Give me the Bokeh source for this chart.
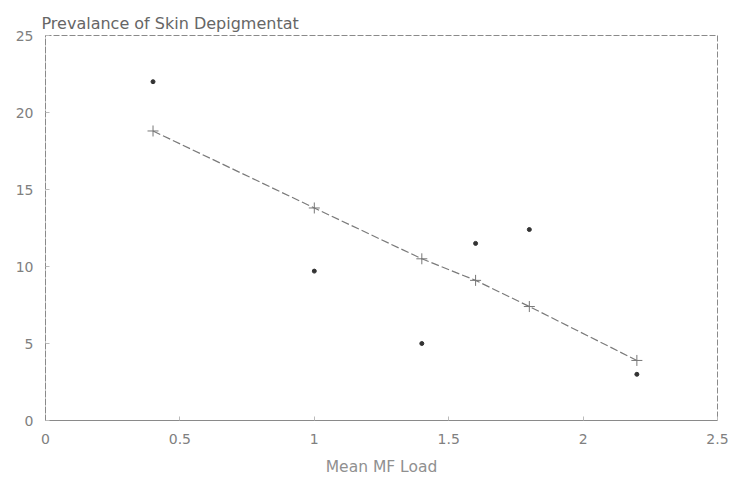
from bokeh.plotting import figure
from bokeh.models import Range1d, FixedTicker
from bokeh.embed import file_html
from bokeh.resources import INLINE

# Observed data (Mean MF Load vs Prevalence of skin depigmentation)
mf_load = [0.4, 1.0, 1.4, 1.6, 1.8, 2.2]
prevalence = [22.0, 9.7, 5.0, 11.5, 12.4, 3.0]
# Fitted regression values
fitted = [18.8, 13.8, 10.5, 9.1, 7.4, 3.9]

x_ticks = [0, 0.5, 1, 1.5, 2, 2.5]
x_tick_labels = {0: "0", 0.5: "0.5", 1: "1", 1.5: "1.5", 2: "2", 2.5: "2.5"}
y_ticks = [0, 5, 10, 15, 20, 25]

FONT = "DejaVu Sans"
GREY = "#8a8a8a"

p = figure(width=737, height=486, output_backend="svg", toolbar_location=None,
           x_range=Range1d(0, 2.5), y_range=Range1d(0, 25),
           min_border_left=45, min_border_right=20, min_border_top=35, min_border_bottom=66)
p.title.text = "Prevalance of Skin Depigmentat"
p.title.text_font = FONT
p.title.text_font_size = "16px"
p.title.text_font_style = "normal"
p.title.text_color = "#666666"
p.title.offset = -4
p.title.standoff = 6

p.grid.visible = False
p.background_fill_color = "white"
p.border_fill_color = "white"
p.outline_line_color = GREY
p.outline_line_dash = "6 2"
p.outline_line_width = 1

for ax in (p.xaxis[0], p.yaxis[0]):
    ax.axis_line_color = GREY
    ax.axis_line_dash = "6 2"
    ax.major_tick_in = 4
    ax.major_tick_out = 0
    ax.minor_tick_line_color = None
    ax.major_tick_line_color = "#bbbbbb"
    ax.major_label_text_font = FONT
    ax.major_label_text_font_size = "14px"
    ax.major_label_text_color = "#808080"
    ax.axis_label_text_font = FONT
    ax.axis_label_text_font_style = "normal"
    ax.axis_label_text_font_size = "15.5px"
    ax.axis_label_text_color = "#909090"

p.xaxis.ticker = FixedTicker(ticks=x_ticks)
p.xaxis.major_label_overrides = x_tick_labels
p.xaxis.major_label_standoff = 13
p.xaxis.axis_label = "Mean MF Load"
p.xaxis.axis_label_standoff = 11
p.yaxis.ticker = FixedTicker(ticks=y_ticks)
p.yaxis.major_label_standoff = 12

p.line(mf_load, fitted, line_color="#7a7a7a", line_width=1.2, line_dash="8 3")
p.scatter(mf_load, fitted, marker="cross", size=11, line_color="#777777", line_width=1)
p.scatter(mf_load, prevalence, marker="circle", size=4, fill_color="#333333", line_color="#333333")

open("out.html", "w").write(file_html(p, INLINE))
